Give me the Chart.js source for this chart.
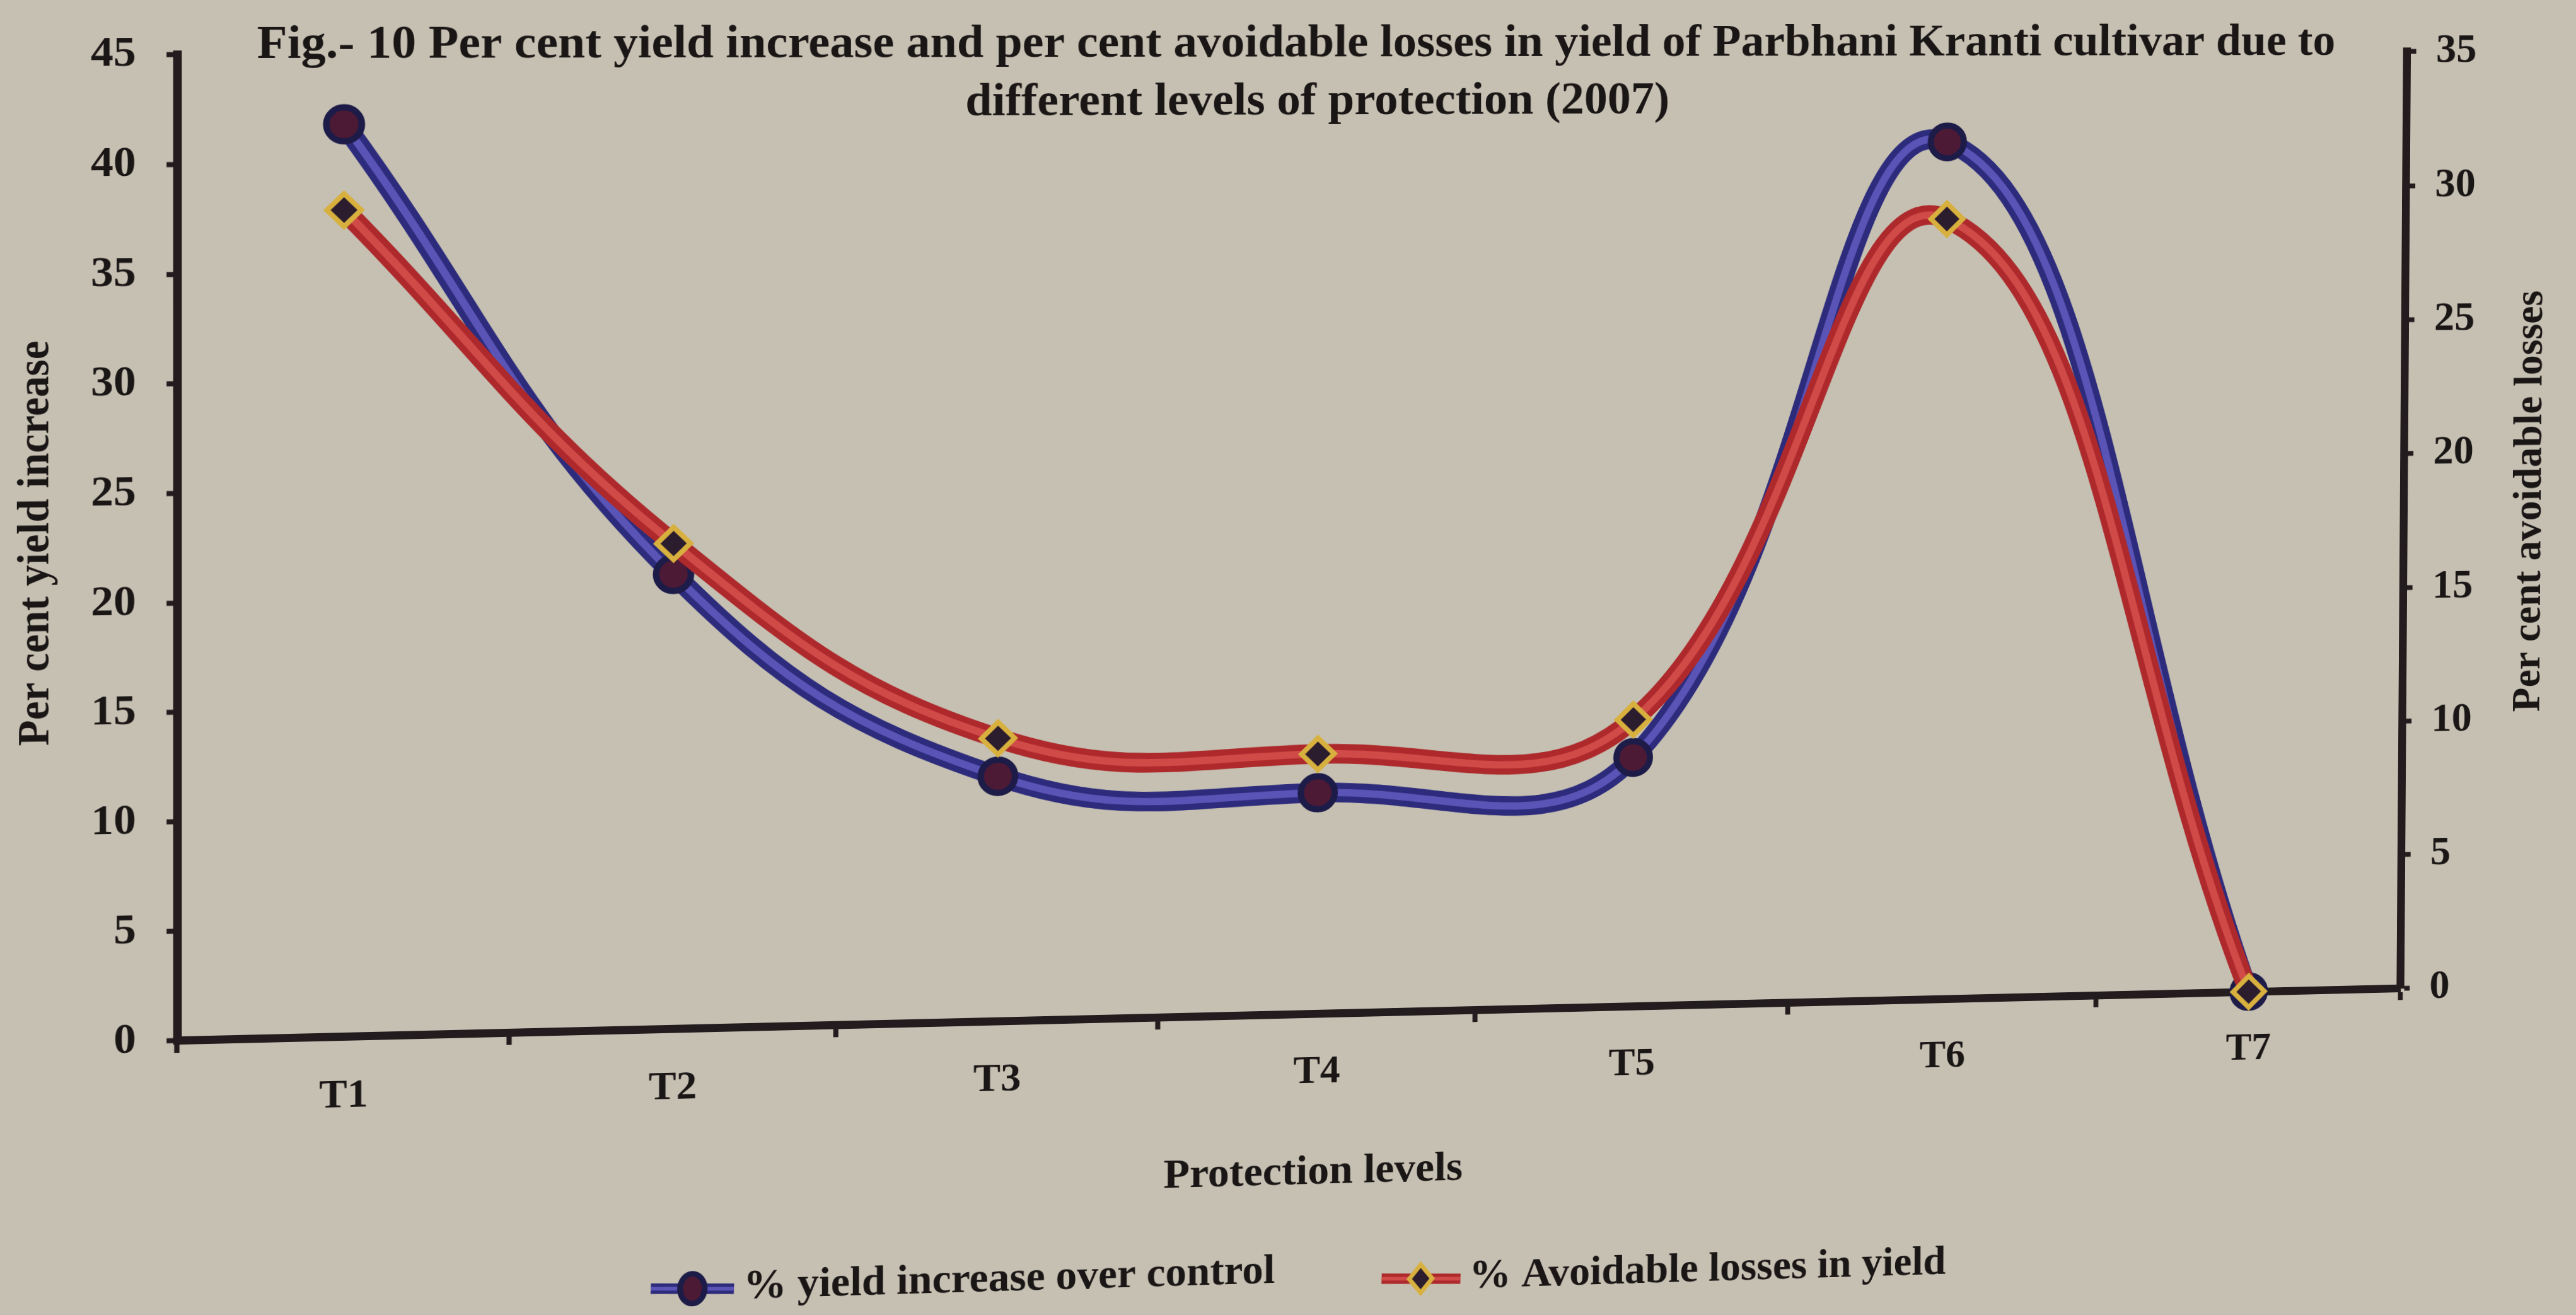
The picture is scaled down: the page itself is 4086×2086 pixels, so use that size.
<!DOCTYPE html>
<html>
<head>
<meta charset="utf-8">
<title>Fig. 10 – Per cent yield increase and avoidable losses</title>
<script src="https://cdn.jsdelivr.net/npm/chart.js@4.4.0/dist/chart.umd.min.js"></script>
<style>
  html, body { margin: 0; padding: 0; width: 4086px; height: 2086px; overflow: hidden; background: #c5c0b1; }
  #sheet { position: relative; width: 4086px; height: 2086px; overflow: hidden; }
  #chart { position: absolute; left: 0; top: 0; transform-origin: 0 0; }
</style>
</head>
<body>
<div id="sheet"><canvas id="chart" width="4160" height="2200"></canvas></div>
<script>
// ---- data ----
const categories = ['T1', 'T2', 'T3', 'T4', 'T5', 'T6', 'T7'];
const yieldIncrease = [41.81, 21.02, 11.41, 10.37, 11.76, 40.75, 0];
const avoidableLosses = [29.47, 17.45, 10.25, 9.48, 10.54, 28.85, 0];
const leftTickValues = [0, 5, 10, 15, 20, 25, 30, 35, 40, 45];
const rightTickValues = [0, 5, 10, 15, 20, 25, 30, 35];
const seriesNames = ['% yield increase over control', '% Avoidable losses in yield'];
const titleLines = [
  'Fig.- 10 Per cent yield increase and per cent avoidable losses in yield of Parbhani Kranti cultivar due to',
  'different levels of protection (2007)'
];
const xTitle = 'Protection levels';
const yTitleLeft = 'Per cent yield increase';
const yTitleRight = 'Per cent avoidable losses';

// ---- layout ----
const CANVAS_W = 4160, CANVAS_H = 2200;
const PLOT = { left: 281, right: 3817, top: 45, bottom: 1650 };
// where the four plot corners sit on the page (the sheet is seen in slight perspective)
const PAGE_CORNERS = [[281, 45], [3817, 42], [281, 1650], [3806, 1567]];
const FONT = "'Liberation Serif', 'Times New Roman', serif";
const INK = '#1a1616';
const BG = '#c5c0b1';

const COLORS = {
  blueOuter: '#2d2b7c', blueInner: '#5a54b6', blueMarkFill: '#4c1a35', blueMarkEdge: '#1d1b48',
  redOuter: '#ad292c', redInner: '#d04a48', redMarkFill: '#2b1d2d', redMarkEdge: '#d8b03e',
  axis: '#221c1e'
};

// ---- perspective helpers ----
function homography(src, dst) {
  const A = [], b = [];
  for (let i = 0; i < 4; i++) {
    const [x, y] = src[i], [X, Y] = dst[i];
    A.push([x, y, 1, 0, 0, 0, -x * X, -y * X]); b.push(X);
    A.push([0, 0, 0, x, y, 1, -x * Y, -y * Y]); b.push(Y);
  }
  const n = 8;
  for (let c = 0; c < n; c++) {
    let p = c;
    for (let r = c + 1; r < n; r++) if (Math.abs(A[r][c]) > Math.abs(A[p][c])) p = r;
    [A[c], A[p]] = [A[p], A[c]]; [b[c], b[p]] = [b[p], b[c]];
    for (let r = 0; r < n; r++) {
      if (r === c) continue;
      const f = A[r][c] / A[c][c];
      for (let k = c; k < n; k++) A[r][k] -= f * A[c][k];
      b[r] -= f * b[c];
    }
  }
  const h = b.map((v, i) => v / A[i][i]);
  return [[h[0], h[1], h[2]], [h[3], h[4], h[5]], [h[6], h[7], 1]];
}
function invert3(m) {
  const [a, b, c] = m[0], [d, e, f] = m[1], [g, h, i] = m[2];
  const A = e * i - f * h, B = -(d * i - f * g), C = d * h - e * g;
  const det = a * A + b * B + c * C;
  return [
    [A / det, -(b * i - c * h) / det, (b * f - c * e) / det],
    [B / det, (a * i - c * g) / det, -(a * f - c * d) / det],
    [C / det, -(a * h - b * g) / det, (a * e - b * d) / det]
  ];
}
function applyH(m, x, y) {
  const w = m[2][0] * x + m[2][1] * y + m[2][2];
  return [(m[0][0] * x + m[0][1] * y + m[0][2]) / w, (m[1][0] * x + m[1][1] * y + m[1][2]) / w];
}
const FLAT_CORNERS = [[PLOT.left, PLOT.top], [PLOT.right, PLOT.top], [PLOT.left, PLOT.bottom], [PLOT.right, PLOT.bottom]];
const H = homography(FLAT_CORNERS, PAGE_CORNERS);
const Hinv = invert3(H);
const toFlat = (X, Y) => applyH(Hinv, X, Y);

const canvas = document.getElementById('chart');
canvas.style.transform = `matrix3d(${H[0][0]},${H[1][0]},0,${H[2][0]},${H[0][1]},${H[1][1]},0,${H[2][1]},0,0,1,0,${H[0][2]},${H[1][2]},0,${H[2][2]})`;

// ---- decorations: background, titles, legend ----
function text(ctx, str, X, Y, size, align, rotate) {
  const [x, y] = toFlat(X, Y);
  ctx.save();
  ctx.translate(x, y);
  if (rotate) ctx.rotate(rotate);
  ctx.font = `bold ${size}px ${FONT}`;
  ctx.fillStyle = INK;
  ctx.textAlign = align;
  ctx.textBaseline = 'middle';
  ctx.fillText(str, 0, 0);
  ctx.restore();
}
function sampleLine(ctx, X1, X2, Y, outer, inner) {
  const [x1, y1] = toFlat(X1, Y), [x2, y2] = toFlat(X2, Y);
  ctx.save();
  ctx.lineCap = 'butt';
  ctx.strokeStyle = outer; ctx.lineWidth = 17;
  ctx.beginPath(); ctx.moveTo(x1, y1); ctx.lineTo(x2, y2); ctx.stroke();
  ctx.strokeStyle = inner; ctx.lineWidth = 6;
  ctx.beginPath(); ctx.moveTo(x1, y1); ctx.lineTo(x2, y2); ctx.stroke();
  ctx.restore();
}
function sampleMarker(ctx, X, Y, style) {
  const [x, y] = toFlat(X, Y);
  ctx.save();
  if (style === 'circle') {
    ctx.fillStyle = COLORS.blueMarkFill; ctx.strokeStyle = COLORS.blueMarkEdge; ctx.lineWidth = 9;
    ctx.beginPath(); ctx.ellipse(x, y, 19, 24, 0, 0, Math.PI * 2); ctx.fill(); ctx.stroke();
  } else {
    const r = 23;
    ctx.fillStyle = COLORS.redMarkFill; ctx.strokeStyle = COLORS.redMarkEdge; ctx.lineWidth = 7;
    ctx.beginPath(); ctx.moveTo(x, y - r); ctx.lineTo(x + r * 0.8, y); ctx.lineTo(x, y + r); ctx.lineTo(x - r * 0.8, y); ctx.closePath();
    ctx.fill(); ctx.stroke();
  }
  ctx.restore();
}

const decor = {
  id: 'decor',
  beforeDraw(chart) {
    const ctx = chart.ctx;
    ctx.save();
    ctx.fillStyle = BG;
    ctx.fillRect(0, 0, chart.width, chart.height);
    ctx.restore();
  },
  afterDraw(chart) {
    const ctx = chart.ctx;
    text(ctx, titleLines[0], 2095, 70, 75, 'center');
    text(ctx, titleLines[1], 2094, 162, 75, 'center');
    text(ctx, yTitleLeft, 58, 862, 67, 'center', -Math.PI / 2);
    text(ctx, yTitleRight, 4013, 795, 67, 'center', -Math.PI / 2);
    text(ctx, xTitle, 2083, 1860, 68, 'center');
    // legend
    sampleLine(ctx, 1032, 1164, 2044, COLORS.blueOuter, COLORS.blueInner);
    sampleMarker(ctx, 1098, 2044, 'circle');
    text(ctx, seriesNames[0], 1179, 2042, 67, 'left');
    sampleLine(ctx, 2191, 2316, 2028, COLORS.redOuter, COLORS.redInner);
    sampleMarker(ctx, 2253, 2028, 'diamond');
    text(ctx, seriesNames[1], 2330, 2026, 67, 'left');
  }
};

const TENSION = 0.42;
const tickFont = { family: FONT, weight: 'bold', size: 68 };

new Chart(canvas, {
  type: 'line',
  data: {
    labels: categories,
    datasets: [
      { label: seriesNames[0], data: yieldIncrease, yAxisID: 'y', borderColor: COLORS.blueOuter, borderWidth: 32,
        pointRadius: 0, tension: TENSION, fill: false, clip: false, order: 6 },
      { data: yieldIncrease, yAxisID: 'y', borderColor: COLORS.blueInner, borderWidth: 12,
        pointRadius: 0, tension: TENSION, fill: false, clip: false, order: 5 },
      { data: yieldIncrease, yAxisID: 'y', showLine: false, pointStyle: 'circle', pointRadius: 27,
        pointBackgroundColor: COLORS.blueMarkFill, pointBorderColor: COLORS.blueMarkEdge, pointBorderWidth: 10,
        clip: false, order: 4 },
      { label: seriesNames[1], data: avoidableLosses, yAxisID: 'y1', borderColor: COLORS.redOuter, borderWidth: 32,
        pointRadius: 0, tension: TENSION, fill: false, clip: false, order: 3 },
      { data: avoidableLosses, yAxisID: 'y1', borderColor: COLORS.redInner, borderWidth: 12,
        pointRadius: 0, tension: TENSION, fill: false, clip: false, order: 2 },
      { data: avoidableLosses, yAxisID: 'y1', showLine: false, pointStyle: 'rectRot', pointRadius: 26,
        pointBackgroundColor: COLORS.redMarkFill, pointBorderColor: COLORS.redMarkEdge, pointBorderWidth: 8,
        clip: false, order: 1 }
    ]
  },
  options: {
    responsive: false,
    animation: false,
    devicePixelRatio: 1,
    events: [],
    layout: { padding: { top: PLOT.top, left: 0, right: 0, bottom: 0 } },
    plugins: { legend: { display: false }, title: { display: false }, tooltip: { enabled: false } },
    scales: {
      x: {
        type: 'category',
        offset: true,
        grid: { offset: true, drawOnChartArea: false, drawTicks: true, tickLength: 20, tickWidth: 8, tickColor: COLORS.axis },
        border: { display: true, width: 13, color: COLORS.axis },
        ticks: { font: { family: FONT, weight: 'bold', size: 64 }, color: INK, padding: 38, maxRotation: 0, autoSkip: false },
        afterFit(scale) { scale.height = CANVAS_H - PLOT.bottom; }
      },
      y: {
        position: 'left',
        min: 0, max: 45,
        afterBuildTicks(scale) { scale.ticks = leftTickValues.map(v => ({ value: v })); },
        grid: { drawOnChartArea: false, drawTicks: true, tickLength: 16, tickWidth: 8, tickColor: COLORS.axis },
        border: { display: true, width: 13, color: COLORS.axis },
        ticks: { font: tickFont, color: INK, padding: 46 },
        afterFit(scale) { scale.width = PLOT.left; }
      },
      y1: {
        position: 'right',
        min: 0, max: 35,
        afterBuildTicks(scale) { scale.ticks = rightTickValues.map(v => ({ value: v })); },
        grid: { drawOnChartArea: false, drawTicks: true, tickLength: 16, tickWidth: 8, tickColor: COLORS.axis },
        border: { display: true, width: 13, color: COLORS.axis },
        ticks: { font: tickFont, color: INK, padding: 33 },
        afterFit(scale) { scale.width = CANVAS_W - PLOT.right; }
      }
    }
  },
  plugins: [decor]
});
</script>
</body>
</html>
